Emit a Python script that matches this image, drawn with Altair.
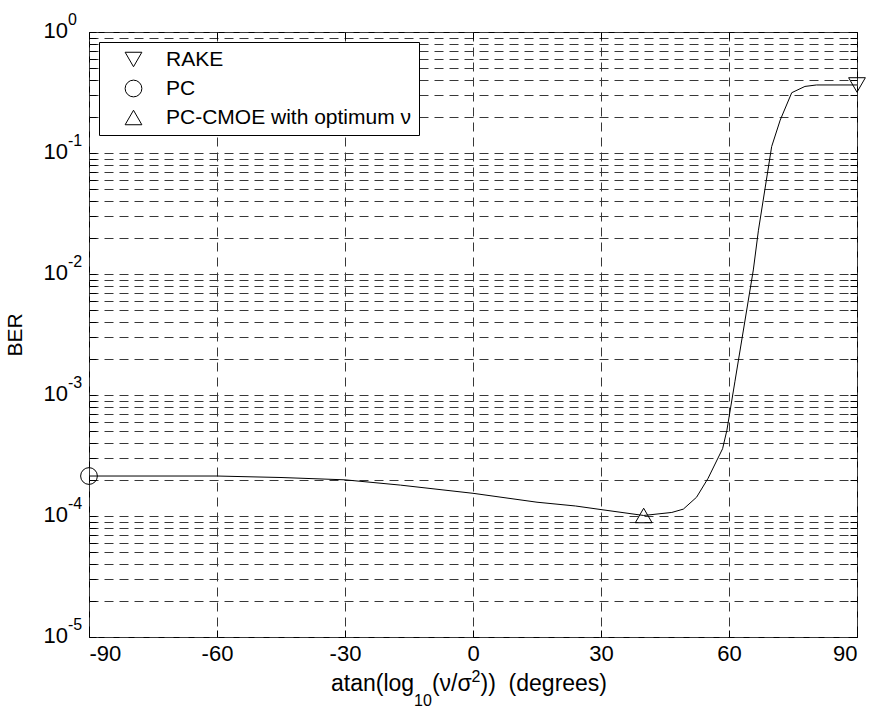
import altair as alt
import pandas as pd

# ---- data ----
x_deg = [-90, -60, -45, -30, -17, 0, 15, 24, 30, 40, 46.6, 49.3, 52.4, 55.1,
         58.5, 59.5, 61.4, 65.7, 66.9, 70.0, 72.0, 74.7, 77.8, 80.5, 90]
ber = [2.14e-4, 2.14e-4, 2.08e-4, 1.99e-4, 1.80e-4, 1.54e-4, 1.30e-4, 1.21e-4,
       1.13e-4, 1.01e-4, 1.07e-4, 1.14e-4, 1.43e-4, 2.05e-4, 3.6e-4, 5.1e-4,
       1.3e-3, 1.08e-2, 2.3e-2, 0.113, 0.187, 0.315, 0.355, 0.365, 0.365]

marker_series = ["RAKE", "PC", "PC-CMOE with optimum ν"]
marker_x = [90, -90, 40]
marker_ber = [0.365, 2.14e-4, 1.01e-4]
marker_shapes = ["triangle-down", "circle", "triangle-up"]

x_ticks = [-90, -60, -30, 0, 30, 60, 90]
decades = [0, -1, -2, -3, -4, -5]
y_grid = sorted(k * 10.0 ** e for e in range(-5, 0) for k in range(1, 10)) + [1.0]

title_pieces = ["atan(log", "10", "(ν/σ", "2", "))\u00a0 (degrees)"]

# ---- layout ----
W, H = 768, 605
FONT = "Liberation Sans"

curve = pd.DataFrame({"x": x_deg, "ber": ber})
markers = pd.DataFrame({"series": marker_series, "x": marker_x, "ber": marker_ber})
labels = pd.DataFrame({"val": [10.0 ** e for e in decades],
                       "exp": [str(e) for e in decades]})

xscale = alt.Scale(domain=[-90, 90], nice=False, zero=False)
yscale = alt.Scale(type="log", domain=[1e-5, 1], nice=False)

grid_common = dict(grid=True, gridColor="#383838", gridDash=[9, 6], gridWidth=1,
                   ticks=False, domain=False)
tick_common = dict(grid=False, domain=False, labels=False, ticks=True,
                   tickColor="black", tickSize=7, tickWidth=1, offset=-7, title=None)

line = alt.Chart(curve).mark_line(color="black", strokeWidth=1).encode(
    x=alt.X("x:Q", scale=xscale, axis=alt.Axis(
        orient="bottom", values=x_ticks, labels=True, labelExpr="'' + datum.value",
        labelFont=FONT, labelFontSize=22, labelColor="black", labelPadding=6,
        title=None, **grid_common)),
    y=alt.Y("ber:Q", scale=yscale, axis=alt.Axis(
        orient="left", values=y_grid, labels=False, title="BER", titleFont=FONT,
        titleFontSize=21, titleFontWeight="normal", titleColor="black",
        titleX=-74, titleY=H / 2, titleAngle=270, titleAlign="center",
        titleBaseline="middle", **grid_common)),
)

ticks_layer = alt.Chart(curve).mark_point(opacity=0, size=1).encode(
    x=alt.X("x:Q", scale=xscale, axis=alt.Axis(orient="bottom", values=x_ticks, **tick_common)),
    y=alt.Y("ber:Q", scale=yscale, axis=alt.Axis(orient="left", values=y_grid, **tick_common)),
)

pts = alt.Chart(markers).mark_point(filled=False, color="black", strokeWidth=1,
                                    size=280, opacity=1).encode(
    x=alt.X("x:Q", scale=xscale, axis=alt.Axis(orient="top", values=x_ticks, **tick_common)),
    y=alt.Y("ber:Q", scale=yscale, axis=alt.Axis(orient="right", values=y_grid, **tick_common)),
    shape=alt.Shape("series:N", scale=alt.Scale(domain=marker_series, range=marker_shapes),
                    legend=alt.Legend(
                        title=None, orient="none", legendX=10, legendY=10,
                        fillColor="white", strokeColor="black", padding=7,
                        symbolOffset=17, labelOffset=22, labelFont=FONT,
                        labelFontSize=21, labelColor="black", labelLimit=500,
                        symbolSize=280, symbolStrokeColor="black",
                        symbolFillColor="transparent", symbolStrokeWidth=1,
                        rowPadding=7)),
)

tens = alt.Chart(labels).mark_text(text="10", align="right", baseline="alphabetic", dy=6,
                                   font=FONT, fontSize=22, color="black").encode(
    x=alt.value(-21), y=alt.Y("val:Q", scale=yscale, axis=None))
exps = alt.Chart(labels).mark_text(align="left", baseline="alphabetic", dy=-7,
                                   font=FONT, fontSize=16, color="black").encode(
    x=alt.value(-21), y=alt.Y("val:Q", scale=yscale, axis=None), text="exp:N")

# x-axis title pieces (main, subscript, main, superscript, main)
piece_x = [242, 325.1, 342.9, 382.6, 391.5]
piece_y = [659, 674, 659, 650, 659]
piece_size = [23, 16, 23, 16, 23]
title_layers = []
for t, px, py, fs in zip(title_pieces, piece_x, piece_y, piece_size):
    title_layers.append(
        alt.Chart(pd.DataFrame({"t": [t]})).mark_text(
            align="left", baseline="alphabetic", font=FONT, fontSize=fs, color="black"
        ).encode(x=alt.value(px), y=alt.value(py), text="t:N"))

chart = alt.layer(line, ticks_layer, pts, tens, exps, *title_layers).resolve_axis(
    x="independent", y="independent"
).properties(
    width=W, height=H,
    padding={"left": 89, "top": 32, "right": 13, "bottom": 71},
    autosize=alt.AutoSizeParams(type="none"),
    background="white",
).configure_view(stroke="black", strokeWidth=1)

chart.save("out.html", embed_options={"renderer": "svg", "actions": False})
